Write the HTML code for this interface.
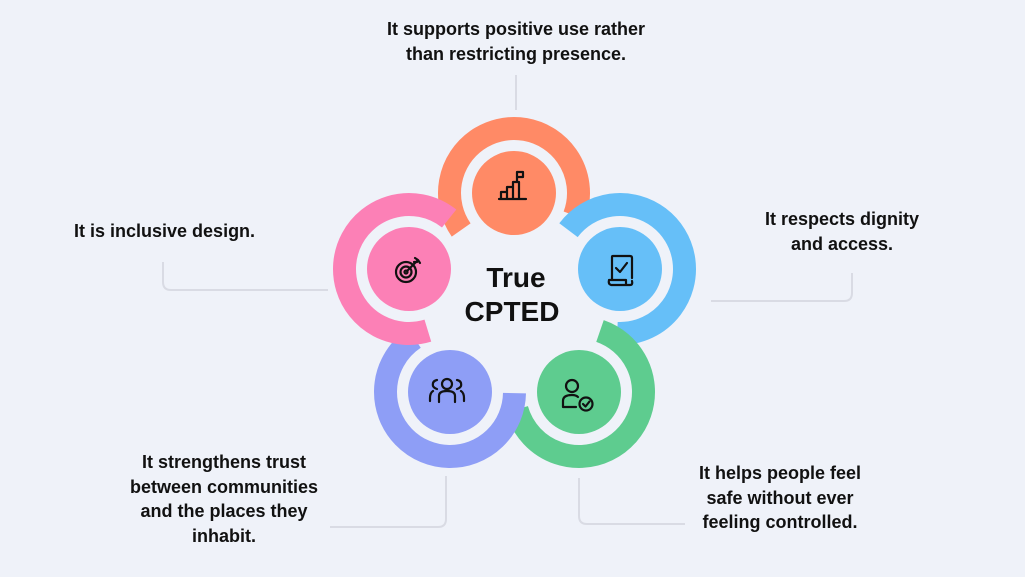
<!DOCTYPE html>
<html><head><meta charset="utf-8"><style>
html,body{margin:0;padding:0;background:#EFF2F9;}
body{width:1025px;height:577px;overflow:hidden;position:relative;font-family:"Liberation Sans",sans-serif;}
.t{position:absolute;font-weight:bold;font-size:18px;line-height:24.5px;color:#111;text-align:center;white-space:nowrap;}
</style></head><body>
<svg width="1025" height="577" style="position:absolute;left:0;top:0">
<g fill="none" stroke="#D9DBE4" stroke-width="2">
<line x1="516" y1="75" x2="516" y2="110"/>
<path d="M163 262 V282 Q163 290 171 290 H328"/>
<path d="M852 273 V293 Q852 301 844 301 H711"/>
<path d="M446 476 V519 Q446 527 438 527 H330"/>
<path d="M579 478 V516 Q579 524 587 524 H685"/>
</g>
<g fill="none" stroke-width="23">
<circle cx="514" cy="193" r="64.5" stroke="#FF8A66" stroke-dasharray="265 1000" transform="rotate(145 514 193)"/>
<circle cx="620" cy="269" r="64.5" stroke="#66BFF8" stroke-dasharray="265 1000" transform="rotate(217 620 269)"/>
<circle cx="579" cy="392" r="64.5" stroke="#5ECC8F" stroke-dasharray="265 1000" transform="rotate(289 579 392)"/>
<circle cx="450" cy="392" r="64.5" stroke="#8E9EF6" stroke-dasharray="265 1000" transform="rotate(1 450 392)"/>
<circle cx="409" cy="269" r="64.5" stroke="#FC80B6" stroke-dasharray="265 1000" transform="rotate(73 409 269)"/>
</g>
<circle cx="514" cy="193" r="42" fill="#FF8A66"/>
<circle cx="620" cy="269" r="42" fill="#66BFF8"/>
<circle cx="579" cy="392" r="42" fill="#5ECC8F"/>
<circle cx="450" cy="392" r="42" fill="#8E9EF6"/>
<circle cx="409" cy="269" r="42" fill="#FC80B6"/>
<g fill="none" stroke="#111" stroke-width="2.2" stroke-linecap="round" stroke-linejoin="round">
<path d="M499 199 H526 M501 199 V192 H507 V199 M507 199 V187 H513 V199 M513 199 V182 H519 V199 M517 182 V172 M517 172 H523 V177 H517"/>
<circle cx="406" cy="272" r="10"/><circle cx="406" cy="272" r="5.5"/><circle cx="406" cy="272" r="1.5"/>
<path d="M407 271 L418 260 M415 258 L418 260 L420 263 M414 262 L417 262"/>
<path d="M612 279 V257 Q612 256 613 256 H630 Q632 256 632 258 V278 M609 280 Q608 284 611 285 H630 Q633 285 632 281 V281 M609 280 H626 V285 M616 268 L620 272 L627 263"/>
<circle cx="572" cy="386" r="6"/><path d="M563 407 V401 Q563 395 572 395 Q576 395 578 397 M563 407 H576"/>
<circle cx="586" cy="404" r="6.5"/><path d="M583 404 L585.5 406.5 L589.5 401.5"/>
<circle cx="447" cy="384" r="5"/><path d="M439 402 V396 Q439 391 447 391 Q455 391 455 396 V402"/>
<path d="M437 380 Q432 381 433 386 Q434 388 437 389 M433 391 Q430 393 430 398 V401"/>
<path d="M457 380 Q462 381 461 386 Q460 388 457 389 M461 391 Q464 393 464 398 V401"/>
</g>
<text x="516" y="287" text-anchor="middle" font-family="Liberation Sans" font-weight="bold" font-size="28" fill="#111">True</text>
<text x="512" y="321" text-anchor="middle" font-family="Liberation Sans" font-weight="bold" font-size="28" fill="#111">CPTED</text>
</svg>
<div class="t" style="left:316px;top:17px;width:400px">It supports positive use rather<br>than restricting presence.</div>
<div class="t" style="left:74px;top:219px;text-align:left">It is inclusive design.</div>
<div class="t" style="left:692px;top:207px;width:300px">It respects dignity<br>and access.</div>
<div class="t" style="left:74px;top:450px;width:300px">It strengthens trust<br>between communities<br>and the places they<br>inhabit.</div>
<div class="t" style="left:630px;top:461px;width:300px">It helps people feel<br>safe without ever<br>feeling controlled.</div>
</body></html>
